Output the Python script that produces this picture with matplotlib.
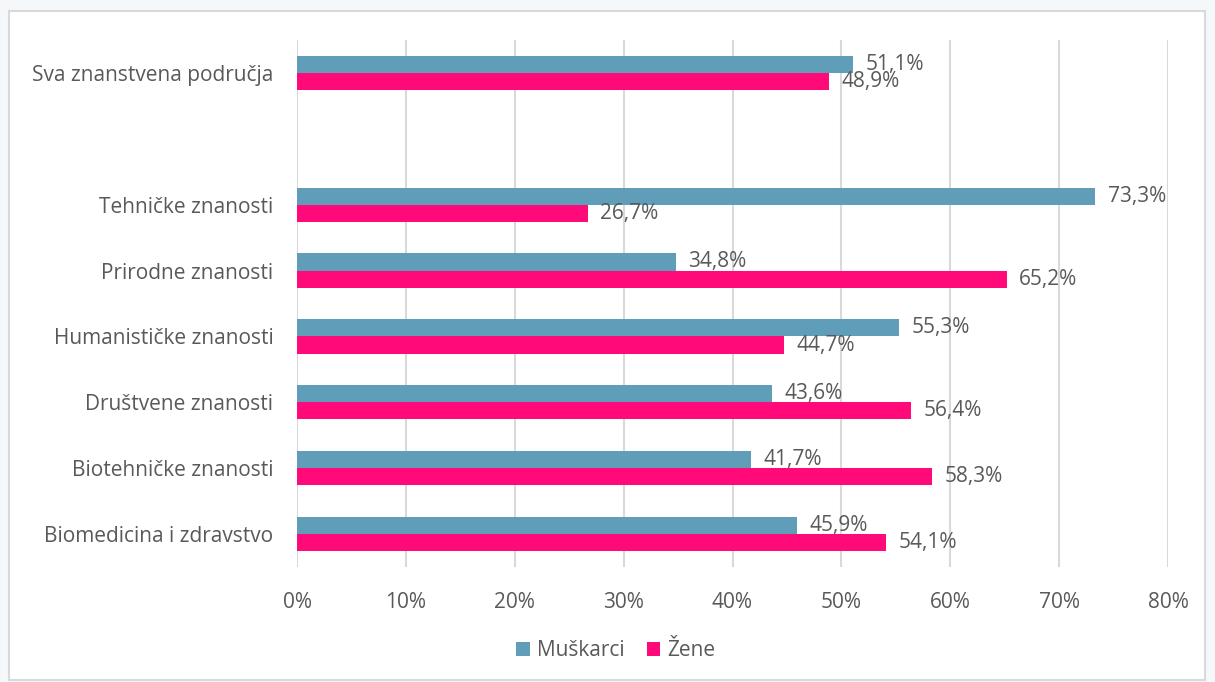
import matplotlib.pyplot as plt
from matplotlib.patches import Rectangle
from matplotlib.ticker import FuncFormatter

plt.rcParams['font.family'] = ['Open Sans', 'DejaVu Sans']

# Data
categories = ["Biomedicina i zdravstvo", "Biotehničke znanosti", "Društvene znanosti",
              "Humanističke znanosti", "Prirodne znanosti", "Tehničke znanosti",
              "Sva znanstvena područja"]
positions = [0, 1, 2, 3, 4, 5, 7]
muskarci = [45.9, 41.7, 43.6, 55.3, 34.8, 73.3, 51.1]
zene = [54.1, 58.3, 56.4, 44.7, 65.2, 26.7, 48.9]

blue = '#5F9DB8'
pink = '#FF0A78'
text_col = '#595959'
fs = 15

fig = plt.figure(figsize=(12.15, 6.82), dpi=100, facecolor='#F4F8FB')
# white chart area with grey border
fig.patches.append(Rectangle((9 / 1215, 2 / 682), 1196 / 1215, 669 / 682, transform=fig.transFigure,
                             facecolor='white', edgecolor='#D9D9D9', linewidth=1.5, zorder=-10))

ax = fig.add_axes([297 / 1215, 1 - 567 / 682, 871 / 1215, 527 / 682])
ax.set_facecolor('none')

h = 0.26
ax.barh([p + h / 2 for p in positions], muskarci, height=h, color=blue, label='Muškarci', zorder=2)
ax.barh([p - h / 2 for p in positions], zene, height=h, color=pink, label='Žene', zorder=2)

for p, m, z in zip(positions, muskarci, zene):
    ax.annotate(f"{m:.1f}%".replace('.', ','), (m, p + h / 2), xytext=(9, 0), textcoords='offset points',
                va='center', ha='left', fontsize=fs, color=text_col, zorder=3)
    ax.annotate(f"{z:.1f}%".replace('.', ','), (z, p - h / 2), xytext=(9, 0), textcoords='offset points',
                va='center', ha='left', fontsize=fs, color=text_col, zorder=3)

ax.set_xlim(0, 80)
ax.set_ylim(-0.5, 7.5)
ax.set_xticks(range(0, 81, 10))
ax.xaxis.set_major_formatter(FuncFormatter(lambda v, _: f"{v:.0f}%"))
ax.set_yticks(positions)
ax.set_yticklabels(categories)
ax.tick_params(axis='both', length=0, labelsize=fs, labelcolor=text_col)
ax.tick_params(axis='x', pad=18)
ax.tick_params(axis='y', pad=17)
ax.grid(axis='x', color='#D9D9D9', linewidth=1.5, zorder=1)
for s in ax.spines.values():
    s.set_visible(False)

leg = fig.legend(loc='center', bbox_to_anchor=(616 / 1215, 1 - 651 / 682), ncol=2, frameon=False,
                 fontsize=fs, handlelength=0.65, handleheight=0.65, handletextpad=0.35, columnspacing=1.05)
for t in leg.get_texts():
    t.set_color(text_col)

fig.savefig('out.png', dpi=100, facecolor=fig.get_facecolor())
